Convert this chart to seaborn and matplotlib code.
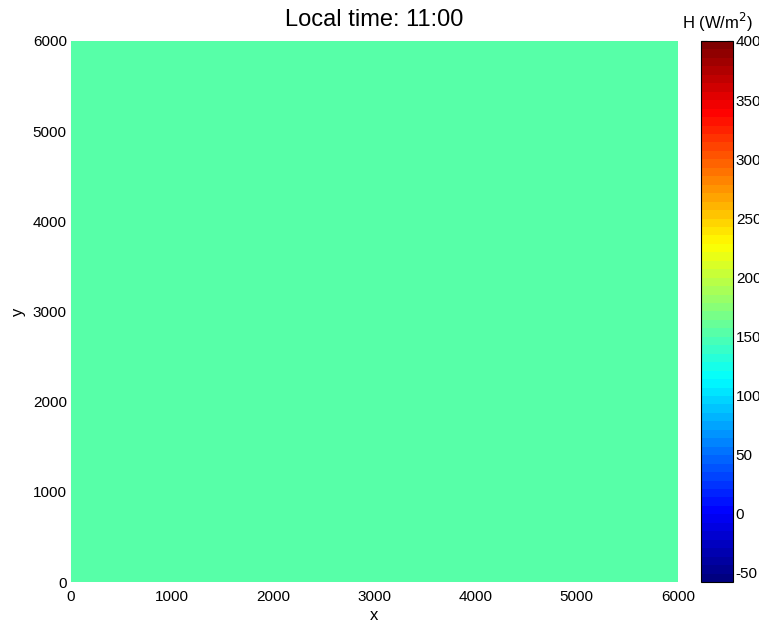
import numpy as np
import pandas as pd
import matplotlib
matplotlib.use("Agg")
import matplotlib.pyplot as plt
from matplotlib.colors import ListedColormap
import seaborn as sns

# Domain grid (m) and surface sensible heat flux at 11:00 local time
x_edges = np.arange(0, 6001, 100)
y_edges = np.arange(0, 6001, 100)
h_flux = 150.0  # W/m^2, homogeneous over the domain
h_min, h_max = -58, 400
cbar_ticks = [-50, 0, 50, 100, 150, 200, 250, 300, 350, 400]
axis_ticks = [0, 1000, 2000, 3000, 4000, 5000, 6000]

x_centers = (x_edges[:-1] + x_edges[1:]) / 2
y_centers = (y_edges[:-1] + y_edges[1:]) / 2
field = pd.DataFrame(np.full((len(y_centers), len(x_centers)), h_flux),
                     index=y_centers, columns=x_centers)

# Classic 64-level piecewise-linear jet
s = np.linspace(0, 1, 64)
jet_rgb = np.stack([np.clip(1.5 - np.abs(4 * s - c), 0, 1) for c in (3, 2, 1)], axis=1)
cmap = ListedColormap(jet_rgb)

sns.set_theme(style="white")
plt.rcParams["font.family"] = ["Liberation Sans", "DejaVu Sans"]
plt.rcParams["text.color"] = "black"
plt.rcParams["axes.labelcolor"] = "black"
plt.rcParams["xtick.color"] = "black"
plt.rcParams["ytick.color"] = "black"

W, H = 759, 624
fig = plt.figure(figsize=(W / 100, H / 100), dpi=100)
ax = fig.add_axes([71 / W, 1 - 582 / H, (678 - 71) / W, (582 - 41) / H])
cax = fig.add_axes([701 / W, 1 - 582 / H, 32 / W, (582 - 41) / H])

sns.heatmap(field, ax=ax, cbar_ax=cax, cmap=cmap, vmin=h_min, vmax=h_max,
            xticklabels=False, yticklabels=False, rasterized=True)

# Map cell indices back to metres for tick placement
nx, ny = len(x_centers), len(y_centers)
ax.set_xlim(0, nx)
ax.set_ylim(0, ny)
ax.set_xticks([t / 100 for t in axis_ticks])
ax.set_xticklabels([str(t) for t in axis_ticks])
ax.set_yticks([t / 100 for t in axis_ticks])
ax.set_yticklabels([str(t) for t in axis_ticks])
ax.tick_params(axis="both", length=0, labelsize=11, colors="black")
ax.tick_params(axis="x", pad=6)
ax.tick_params(axis="y", pad=3, labelrotation=0)
for sp in ax.spines.values():
    sp.set_visible(False)

ax.set_xlabel("x", fontsize=12, labelpad=3, color="black")
ax.set_ylabel("y", fontsize=12, labelpad=5, color="black")
fig.text((71 + 678) / 2 / W, 1 - 20 / H, "Local time: 11:00", ha="center",
         va="center", fontsize=17, color="black")

# Colorbar styling
cax.set_yticks(cbar_ticks)
cax.set_yticklabels([str(t) for t in cbar_ticks])
cax.tick_params(axis="y", direction="in", left=True, right=True, length=4,
                width=0.8, labelsize=11, pad=2, colors="black",
                labelleft=False, labelright=True)
cax.yaxis.set_ticks_position("both")
cbar = ax.collections[0].colorbar
cbar.outline.set_visible(True)
cbar.outline.set_linewidth(0.8)
cbar.outline.set_edgecolor("black")
fig.text(717 / W, 1 - 22 / H, "H (W/m$^2$)", ha="center", va="center",
         fontsize=12, color="black")

fig.savefig("out.png", dpi=100)
